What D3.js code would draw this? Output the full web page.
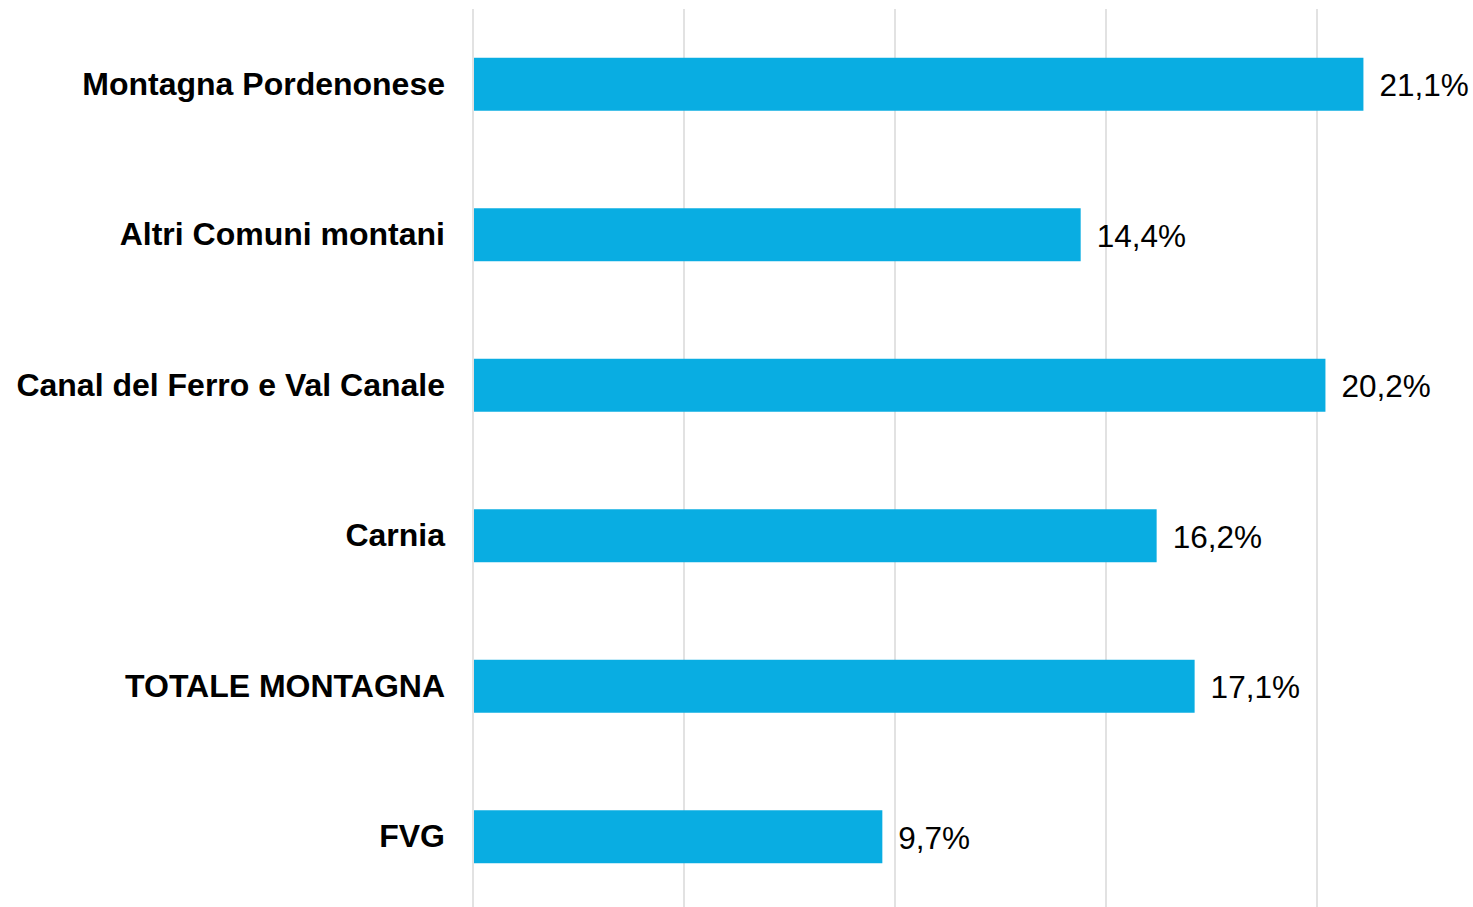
<!DOCTYPE html>
<html>
<head>
<meta charset="utf-8">
<script src="https://cdn.jsdelivr.net/npm/d3@7"></script>
<style>
  html, body { margin: 0; padding: 0; background: #fff; }
  svg { display: block; }
</style>
</head>
<body>
<svg id="chart" width="1473" height="907"></svg>
<script>
const categories = ["Montagna Pordenonese", "Altri Comuni montani", "Canal del Ferro e Val Canale", "Carnia", "TOTALE MONTAGNA", "FVG"];
const values = [21.1, 14.4, 20.2, 16.2, 17.1, 9.7];
const valueLabels = ["21,1%", "14,4%", "20,2%", "16,2%", "17,1%", "9,7%"];
const gridTicks = [0, 5, 10, 15, 20];

const svg = d3.select("#chart");
const x = d3.scaleLinear().domain([0, 20]).range([473, 1317]);
const y = d3.scaleBand().domain(categories).range([9, 912]).paddingInner(0.648).paddingOuter(0.324);

svg.append("g").selectAll("line").data(gridTicks).join("line")
  .attr("x1", d => x(d)).attr("x2", d => x(d))
  .attr("y1", 9).attr("y2", 907)
  .attr("stroke", "#d9d9d9").attr("stroke-width", 1.5);

const data = categories.map((c, i) => ({ c, v: values[i], l: valueLabels[i] }));

svg.append("g").selectAll("rect").data(data).join("rect")
  .attr("x", x(0) + 1)
  .attr("y", d => y(d.c))
  .attr("width", d => x(d.v) - x(0) - 1)
  .attr("height", y.bandwidth())
  .attr("fill", "#09ADE2");

svg.append("g").selectAll("text").data(data).join("text")
  .attr("x", 445)
  .attr("y", d => y(d.c) + y.bandwidth() / 2)
  .attr("dy", "0.33em")
  .attr("text-anchor", "end")
  .attr("font-family", "Liberation Sans, Arial, sans-serif")
  .attr("font-weight", "bold")
  .attr("font-size", 32)
  .attr("fill", "#000")
  .text(d => d.c);

svg.append("g").selectAll("text").data(data).join("text")
  .attr("x", d => x(d.v) + 16)
  .attr("y", d => y(d.c) + y.bandwidth() / 2)
  .attr("dy", "0.38em")
  .attr("font-family", "Liberation Sans, Arial, sans-serif")
  .attr("font-size", 31.5)
  .attr("fill", "#000")
  .text(d => d.l);
</script>
</body>
</html>
